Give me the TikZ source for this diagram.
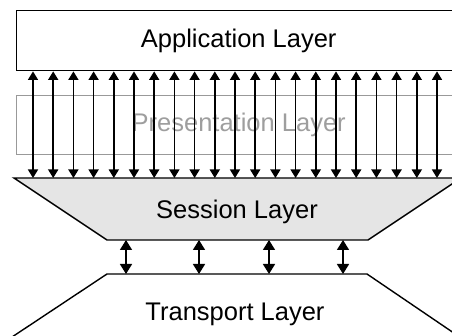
\documentclass[tikz,border=0pt]{standalone}
\usepackage{fontspec}
\setmainfont{Liberation Sans}
\usetikzlibrary{arrows.meta}
\tikzset{
  layerbox/.style={draw, line width=1.4pt, minimum width=444pt, anchor=north west, inner sep=0pt, font=\fontsize{25.5}{30}\selectfont},
  layertext/.style={inner sep=0pt, font=\fontsize{25.5}{30}\selectfont},
  bigarr/.style={line width=1.5pt, {Triangle[width=10pt,length=8.5pt]}-{Triangle[width=10pt,length=8.5pt]}},
  smallarr/.style={line width=1.5pt, {Triangle[width=12pt,length=10pt]}-{Triangle[width=12pt,length=10pt]}},
  edge/.style={line width=1.4pt, line join=miter}
}
\begin{document}
\begin{tikzpicture}[x=1pt,y=-1pt]
\clip (0,0) rectangle (452,336);
\fill[white] (0,0) rectangle (452,336);
% Application layer
\node[layerbox, minimum height=60pt] (app) at (16,10) {Application Layer};
% Presentation layer (greyed)
\node[layerbox, draw=black!40, text=black!38, minimum height=59pt] (pres) at (16,95) {Presentation Layer};
% Session layer
\coordinate (stop) at (237.5,178);
\coordinate (sbot) at (237.5,240);
\draw[edge, fill=black!10] (14,178) -- (461,178) -- (368,240) -- (107,240) -- cycle;
\node[layertext] (sess) at (237,212) {Session Layer};
% Transport layer
\coordinate (ttop) at (237.5,274);
\draw[edge] (0,345) -- (107,274) -- (367,274) -- (470,344);
\node[layertext] (trans) at (235,314) {Transport Layer};
% arrows application <-> session
\foreach \i in {0,...,20}{
  \pgfmathsetmacro{\xx}{33+20.2*\i}
  \draw[bigarr] (app.south -| \xx,0) -- (stop -| \xx,0);
}
% arrows session <-> transport
\foreach \xx in {126,199,269,343}{
  \draw[smallarr] (sbot -| \xx,0) -- (ttop -| \xx,0);
}
\end{tikzpicture}
\end{document}
